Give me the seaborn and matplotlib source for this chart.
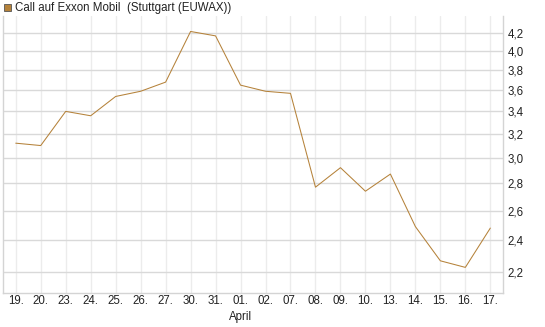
import matplotlib
matplotlib.use("Agg")
import matplotlib.pyplot as plt
import matplotlib.ticker as mticker
from matplotlib.patches import Rectangle
import seaborn as sns
import pandas as pd

categories = ["19.", "20.", "23.", "24.", "25.", "26.", "27.", "30.", "31.", "01.",
              "02.", "07.", "08.", "09.", "10.", "13.", "14.", "15.", "16.", "17."]
values = [3.12, 3.10, 3.40, 3.36, 3.54, 3.59, 3.68, 4.22, 4.17, 3.65,
          3.59, 3.57, 2.77, 2.92, 2.74, 2.87, 2.49, 2.27, 2.23, 2.48]
y_ticks = [2.2, 2.4, 2.6, 2.8, 3.0, 3.2, 3.4, 3.6, 3.8, 4.0, 4.2]
month_label = "April"
month_pos = 9
series_name = "Call auf Exxon Mobil  (Stuttgart (EUWAX))"

sns.set_theme(style="white")
plt.rcParams['font.family'] = ['Liberation Sans', 'DejaVu Sans']

df = pd.DataFrame({"pos": range(len(categories)), "value": values})

fig = plt.figure(figsize=(5.45, 3.27), dpi=100)
ax = fig.add_axes([0.0046, 0.103, 0.9189, 0.848])

line_color = "#B5823A"
sns.lineplot(data=df, x="pos", y="value", ax=ax, color=line_color, linewidth=0.75)

ax.set_yscale("log")
ax.set_ylim(2.079, 4.40)
ax.set_xlim(-0.53, len(categories) - 1 + 0.52)

ax.yaxis.set_major_locator(mticker.FixedLocator(y_ticks))
ax.yaxis.set_minor_locator(mticker.NullLocator())
ax.yaxis.set_major_formatter(mticker.FixedFormatter([f"{v:.1f}".replace(".", ",") for v in y_ticks]))
ax.yaxis.tick_right()
ax.set_xticks(range(len(categories)))
ax.set_xticklabels(categories)
ax.tick_params(axis="both", length=0, labelsize=8.3, colors="#222222")
ax.tick_params(axis="y", pad=3)
ax.tick_params(axis="x", pad=1.5)
ax.set_xlabel("")
ax.set_ylabel("")

ax.grid(axis="y", color="#d9d9d9", linewidth=1.0)
ax.grid(axis="x", color="#ececec", linewidth=1.0)
ax.set_axisbelow(True)

for side in ["left", "bottom", "right"]:
    ax.spines[side].set_visible(True)
    ax.spines[side].set_color("#d4d4d4")
    ax.spines[side].set_linewidth(1.0)
ax.spines["top"].set_visible(False)

ax.text(month_pos, -0.063, month_label, transform=ax.get_xaxis_transform(),
        ha="center", va="top", fontsize=8.3, color="#222222")

fig.patches.append(Rectangle((4 / 545, 1 - 11 / 327), 7 / 545, 7 / 327,
                             transform=fig.transFigure, facecolor=line_color,
                             edgecolor="#555555", linewidth=0.6))
fig.text(15 / 545, 1 - 7.5 / 327, series_name, ha="left", va="center",
         fontsize=8.3, color="#222222")

fig.savefig("out.png", dpi=100)
